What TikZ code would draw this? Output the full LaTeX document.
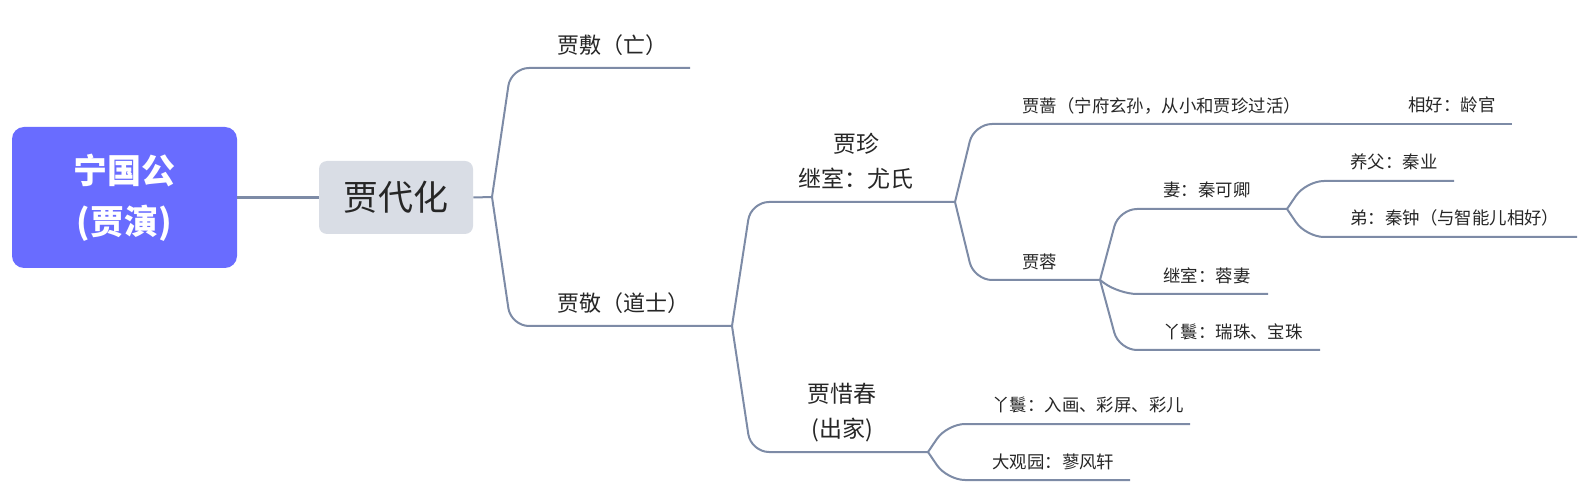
\documentclass[tikz,border=0pt]{standalone}
\usepackage{fontspec}
\setmainfont{Noto Sans CJK SC}
\usetikzlibrary{calc}
\definecolor{rootblue}{HTML}{696CFF}
\definecolor{boxgrey}{HTML}{D9DDE5}
\definecolor{linegrey}{HTML}{7D8BA6}
\definecolor{textgrey}{HTML}{262626}
\tikzset{
    twig/.style={draw=linegrey, line width=1pt, rounded corners=9pt},
    topic/.style={anchor=west, inner sep=0pt, text=textgrey, font=\fontsize{11}{13}\selectfont},
    leaf/.style={topic, font=\fontsize{8.7}{10}\selectfont},
}
\newcommand{\twig}[3]{%
    \draw[twig] (#1) -- (#2) -- (#3);
}

\begin{document}
\begin{tikzpicture}[x=0.5pt, y=-0.5pt]
\useasboundingbox (0, 0) rectangle (1583, 491);

% root and first generation
\node[fill=rootblue, rounded corners=6pt, minimum width=112.5pt, minimum height=70.5pt,
      text=white, align=center, font=\bfseries\fontsize{17}{25.5}\selectfont]
      (root) at (124.5, 197.5) {宁国公\\(贾演)};
\node[fill=boxgrey, rounded corners=4pt, minimum width=77pt, minimum height=36.5pt,
      text=textgrey, font=\fontsize{17.5}{20}\selectfont]
      (dai) at (396, 197.5) {贾代化};
\draw[twig, line width=1.2pt] (root.east) -- (dai.west);

% branch points and lines
\coordinate (b1) at (492, 197);
\coordinate (fuL) at (511, 68);      \coordinate (fuR) at (690, 68);
\coordinate (jingL) at (511, 326);   \coordinate (jingR) at (732, 326);
\coordinate (zhenL) at (751, 202);   \coordinate (zhenR) at (955, 202);
\coordinate (chunL) at (751, 452);   \coordinate (chunR) at (928, 452);
\coordinate (qiangL) at (974, 124);  \coordinate (qiangR) at (1330, 124);
\coordinate (haoL) at (1349, 124);   \coordinate (haoR) at (1512, 124);
\coordinate (rongL) at (974, 280);   \coordinate (rongR) at (1100, 280);
\coordinate (qiL) at (1119, 209);    \coordinate (qiR) at (1287, 209);
\coordinate (jiL) at (1119, 294);    \coordinate (jiR) at (1268, 294);
\coordinate (yaL) at (1119, 350);    \coordinate (yaR) at (1320, 350);
\coordinate (yangL) at (1306, 181);  \coordinate (yangR) at (1454, 181);
\coordinate (diL) at (1306, 237);    \coordinate (diR) at (1577, 237);
\coordinate (huaL) at (947, 424);    \coordinate (huaR) at (1190, 424);
\coordinate (yuanL) at (947, 480);   \coordinate (yuanR) at (1130, 480);

\draw[twig] (dai.east) -- (b1);
\twig{b1}{fuL}{fuR}
\twig{b1}{jingL}{jingR}
\twig{jingR}{zhenL}{zhenR}
\twig{jingR}{chunL}{chunR}
\twig{zhenR}{qiangL}{qiangR}
\twig{qiangR}{haoL}{haoR}
\twig{zhenR}{rongL}{rongR}
\twig{rongR}{qiL}{qiR}
\twig{rongR}{jiL}{jiR}
\twig{rongR}{yaL}{yaR}
\twig{qiR}{yangL}{yangR}
\twig{qiR}{diL}{diR}
\twig{chunR}{huaL}{huaR}
\twig{chunR}{yuanL}{yuanR}

% labels
\node[topic] (fu) at (557, 45) {贾敷（亡）};
\node[topic] (jing) at (557, 303) {贾敬（道士）};
\node[topic, anchor=center, align=center, font=\fontsize{11.5}{17.5}\selectfont]
      (zhen) at (856, 161.5) {贾珍\\继室：尤氏};
\node[topic, anchor=center, align=center, font=\fontsize{11.5}{17.5}\selectfont]
      (chun) at (842, 412.5) {贾惜春\\(出家)};
\node[leaf] (qiang) at (1022, 106) {贾蔷（宁府玄孙，从小和贾珍过活）};
\node[leaf] (hao) at (1408, 105) {相好：龄官};
\node[leaf] (rong) at (1022, 262) {贾蓉};
\node[leaf] (qi) at (1163, 190) {妻：秦可卿};
\node[leaf] (ji) at (1163, 276) {继室：蓉妻};
\node[leaf] (ya) at (1163, 332) {丫鬟：瑞珠、宝珠};
\node[leaf] (yang) at (1350, 162) {养父：秦业};
\node[leaf] (di) at (1350, 218) {弟：秦钟（与智能儿相好）};
\node[leaf] (hua) at (992, 405) {丫鬟：入画、彩屏、彩儿};
\node[leaf] (yuan) at (992, 462) {大观园：蓼风轩};
\end{tikzpicture}
\end{document}
